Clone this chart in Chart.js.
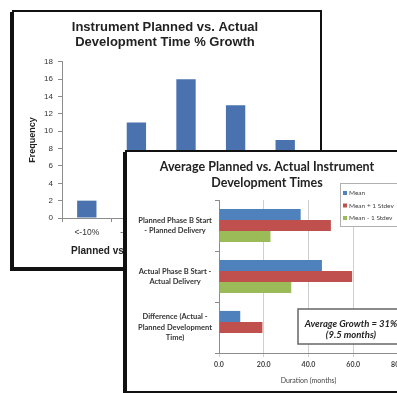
<!DOCTYPE html>
<html>
<head>
<meta charset="utf-8">
<script src="https://cdn.jsdelivr.net/npm/chart.js@4.4.1/dist/chart.umd.min.js"></script>
<style>
  html, body { margin: 0; padding: 0; background: #fff; width: 397px; height: 393px; overflow: hidden; position: relative; }
  .frame { position: absolute; background: #fff; border: 2px solid #111; box-shadow: -2px 2px 0 #111; box-sizing: border-box; }
  #frameHist { left: 12px; top: 10px; width: 310px; height: 259px; }
  #frameDev { left: 125px; top: 150px; width: 320px; height: 243px; }
  canvas { display: block; }
</style>
</head>
<body>
<div class="frame" id="frameHist"><canvas id="hist" width="306" height="255"></canvas></div>
<div class="frame" id="frameDev"><canvas id="dev" width="290" height="239"></canvas></div>
<script>
// Histogram of development time growth
const histCategories = ['<-10%', '-10-10%', '10-30%', '30-50%', '>50%'];
const histFrequency = [2, 11, 16, 13, 9];
const histTitle = ['Instrument Planned vs. Actual', 'Development Time % Growth'];
const histXTitle = 'Planned vs. Actual Development Time % Growth';
const histYTitle = 'Frequency';

// Average planned vs. actual development times (months)
const devCategories = [
  ['Planned Phase B Start', '- Planned Delivery'],
  ['Actual Phase B Start -', 'Actual Delivery'],
  ['Difference (Actual -', 'Planned Development', 'Time)']
];
const seriesNames = ['Mean', 'Mean + 1 Stdev', 'Mean - 1 Stdev'];
const devMean = [36.5, 46.0, 9.5];
const devMeanPlus = [50.0, 59.5, 19.4];
const devMeanMinus = [23.0, 32.3, 0];
const devTitle = ['Average Planned vs. Actual Instrument', 'Development Times'];
const devXTitle = 'Duration (months)';
const growthNote = ['Average Growth = 31%', '(9.5 months)'];

const seriesColors = ['#4F81BD', '#C0504D', '#9BBB59'];
const axisGray = '#8c8c8c';

new Chart(document.getElementById('hist'), {
  type: 'bar',
  data: {
    labels: histCategories,
    datasets: [{ data: histFrequency, backgroundColor: '#4A72AE', categoryPercentage: 0.39, barPercentage: 1 }]
  },
  options: {
    responsive: false,
    animation: false,
    layout: { padding: { left: 6, right: 10, top: 0, bottom: 0 } },
    plugins: {
      legend: { display: false },
      tooltip: { enabled: false },
      title: {
        display: true, text: histTitle, color: '#222',
        font: { family: 'Liberation Sans', size: 13, weight: 'bold', lineHeight: 1.15 },
        padding: { top: 8, bottom: 12 }
      }
    },
    scales: {
      x: {
        afterFit: s => { s.height = 49; },
        grid: { drawOnChartArea: false, tickLength: 4, color: axisGray },
        border: { color: axisGray },
        ticks: { color: '#333', padding: 6, font: { family: 'Liberation Sans', size: 8.5 } },
        title: { display: true, text: histXTitle, color: '#222', padding: { top: 0, bottom: 10 },
                 font: { family: 'Liberation Sans', size: 10, weight: 'bold' } }
      },
      y: {
        min: 0, max: 18,
        afterFit: s => { s.width = 42; },
        grid: { drawOnChartArea: false, tickLength: 4, color: axisGray },
        border: { color: axisGray },
        ticks: { stepSize: 2, color: '#333', padding: 5, font: { family: 'Liberation Sans', size: 8 } },
        title: { display: true, text: histYTitle, color: '#222', padding: { top: 7, bottom: 0 },
                 font: { family: 'Liberation Sans', size: 9, weight: 'bold' } }
      }
    }
  }
});

// Floating legend and growth note drawn over the plot
const overlayPlugin = {
  id: 'overlay',
  afterDraw(chart) {
    const { ctx, chartArea } = chart;
    ctx.save();
    // legend box
    const lx = chartArea.right - 58, ly = chartArea.top - 17;
    ctx.fillStyle = '#fff';
    ctx.fillRect(lx, ly, 90, 43);
    ctx.strokeStyle = '#b0b0b0';
    ctx.lineWidth = 1;
    ctx.strokeRect(lx + 0.5, ly + 0.5, 90, 43);
    ctx.font = '6.5px Lato';
    ctx.textBaseline = 'middle';
    chart.data.datasets.forEach((ds, i) => {
      const cy = ly + 10 + i * 12.5;
      ctx.fillStyle = ds.backgroundColor;
      ctx.fillRect(lx + 3, cy - 2, 4, 4);
      ctx.fillStyle = '#444';
      ctx.fillText(ds.label, lx + 9, cy);
    });
    // growth note
    const bx = chartArea.left + 79, by = chartArea.top + 109;
    ctx.fillStyle = '#fff';
    ctx.fillRect(bx, by, 106, 35);
    ctx.strokeStyle = '#666';
    ctx.lineWidth = 1.5;
    ctx.strokeRect(bx, by, 106, 35);
    ctx.fillStyle = '#222';
    ctx.font = 'italic bold 9.5px Lato';
    ctx.textAlign = 'center';
    growthNote.forEach((t, i) => ctx.fillText(t, bx + 53, by + 15 + i * 11));
    ctx.restore();
  }
};

const devSeries = [devMean, devMeanPlus, devMeanMinus];
new Chart(document.getElementById('dev'), {
  type: 'bar',
  data: {
    labels: devCategories,
    datasets: devSeries.map((vals, i) => ({
      label: seriesNames[i], data: vals, backgroundColor: seriesColors[i],
      categoryPercentage: 0.65, barPercentage: 1
    }))
  },
  options: {
    indexAxis: 'y',
    responsive: false,
    animation: false,
    layout: { padding: { left: 9, right: 19, top: 0, bottom: 0 } },
    plugins: {
      legend: { display: false },
      tooltip: { enabled: false },
      title: {
        display: true, text: devTitle, color: '#222',
        font: { family: 'Lato', size: 12.5, weight: 'bold', lineHeight: 1.28 },
        padding: { top: 7, bottom: 9 }
      }
    },
    scales: {
      x: {
        min: 0, max: 80,
        afterFit: s => { s.height = 38; },
        grid: { color: '#cfcfcf', tickLength: 4 },
        border: { color: axisGray },
        ticks: { stepSize: 20, color: '#444', padding: 4, callback: v => v.toFixed(1),
                 font: { family: 'Lato', size: 7, weight: 'bold' } },
        title: { display: true, text: devXTitle, color: '#444', padding: { top: 0, bottom: 6 },
                 font: { family: 'Lato', size: 7 } }
      },
      y: {
        afterFit: s => { s.width = 83; },
        grid: { drawOnChartArea: false, tickLength: 4, color: axisGray },
        border: { color: axisGray },
        ticks: { crossAlign: 'center', color: '#333', padding: 3,
                 font: { family: 'Lato', size: 7.5, weight: 'bold', lineHeight: 1.4 } }
      }
    }
  },
  plugins: [overlayPlugin]
});
</script>
</body>
</html>
